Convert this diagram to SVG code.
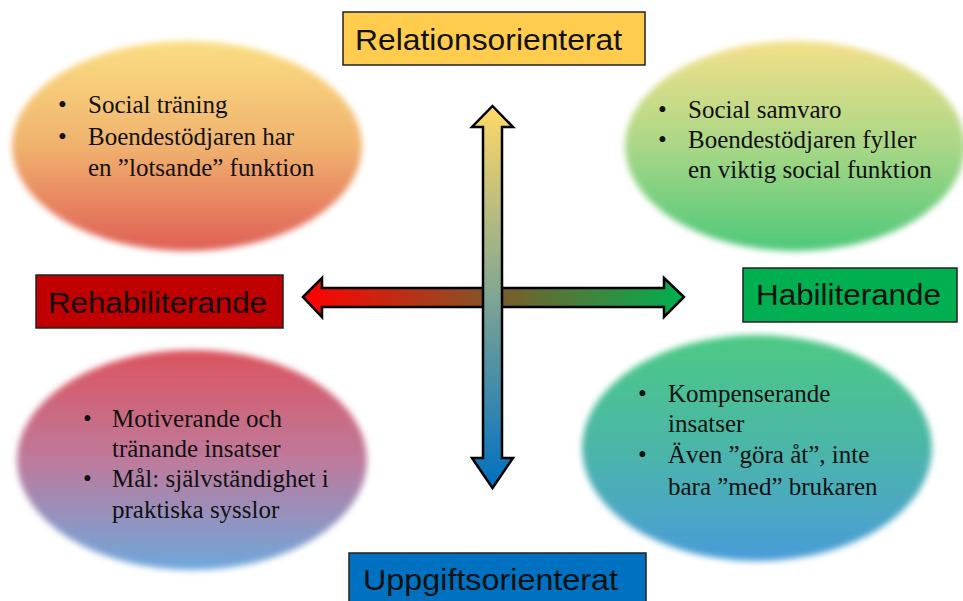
<svg xmlns="http://www.w3.org/2000/svg" width="963" height="601" viewBox="0 0 963 601">
<defs>
<filter id="soft" x="-10%" y="-10%" width="120%" height="120%"><feGaussianBlur stdDeviation="3"/></filter>
<linearGradient id="gTL" x1="0" y1="0" x2="0" y2="1"><stop offset="0" stop-color="#FADE82"/><stop offset="0.5" stop-color="#F0B26E"/><stop offset="1" stop-color="#DF5F56"/></linearGradient>
<linearGradient id="gTR" x1="0" y1="0" x2="0" y2="1"><stop offset="0" stop-color="#F4E08A"/><stop offset="0.5" stop-color="#A9D786"/><stop offset="1" stop-color="#4EC87A"/></linearGradient>
<linearGradient id="gBL" x1="0" y1="0" x2="0" y2="1"><stop offset="0" stop-color="#DB545E"/><stop offset="0.5" stop-color="#BE7A9C"/><stop offset="1" stop-color="#6EA8DC"/></linearGradient>
<linearGradient id="gBR" x1="0" y1="0" x2="0" y2="1"><stop offset="0" stop-color="#4DC984"/><stop offset="0.5" stop-color="#4CB6A8"/><stop offset="1" stop-color="#4A9CD8"/></linearGradient>
<linearGradient id="gH" x1="303" y1="0" x2="684" y2="0" gradientUnits="userSpaceOnUse"><stop offset="0" stop-color="#FF0000"/><stop offset="1" stop-color="#00B050"/></linearGradient>
<linearGradient id="gV" x1="0" y1="106" x2="0" y2="488" gradientUnits="userSpaceOnUse"><stop offset="0" stop-color="#FFD966"/><stop offset="1" stop-color="#0070C0"/></linearGradient>
<style>
.lbl{font-family:"Liberation Sans","Open Sans",sans-serif;font-size:30px;fill:#111}
.box{stroke:#222;stroke-width:1.5}
.txt{font-family:"Liberation Serif","DejaVu Serif",serif;font-size:25px;fill:#111}
.arrow{stroke:#000;stroke-width:2.5;stroke-linejoin:miter}
</style>
</defs>
<rect width="963" height="601" fill="#fff"/>

<g id="ellipse-top-left">
<ellipse cx="187" cy="146" rx="175" ry="105" fill="url(#gTL)" filter="url(#soft)"/>
<text class="txt" x="58" y="113">•</text><text class="txt" x="88" y="113">Social träning</text>
<text class="txt" x="58" y="145">•</text><text class="txt" x="88" y="145">Boendestödjaren har</text>
<text class="txt" x="88" y="176">en ”lotsande” funktion</text>
</g>

<g id="ellipse-top-right">
<ellipse cx="795" cy="146" rx="170" ry="105" fill="url(#gTR)" filter="url(#soft)"/>
<text class="txt" x="658" y="118">•</text><text class="txt" x="688" y="118">Social samvaro</text>
<text class="txt" x="658" y="148">•</text><text class="txt" x="688" y="148">Boendestödjaren fyller</text>
<text class="txt" x="688" y="178">en viktig social funktion</text>
</g>

<g id="ellipse-bottom-left">
<ellipse cx="192" cy="460" rx="175" ry="110" fill="url(#gBL)" filter="url(#soft)"/>
<text class="txt" x="83" y="427">•</text><text class="txt" x="112" y="427">Motiverande och</text>
<text class="txt" x="112" y="457">tränande insatser</text>
<text class="txt" x="83" y="487">•</text><text class="txt" x="112" y="487">Mål: självständighet i</text>
<text class="txt" x="112" y="518">praktiska sysslor</text>
</g>

<g id="ellipse-bottom-right">
<ellipse cx="757" cy="448" rx="175" ry="113" fill="url(#gBR)" filter="url(#soft)"/>
<text class="txt" x="638" y="402">•</text><text class="txt" x="668" y="402">Kompenserande</text>
<text class="txt" x="668" y="432">insatser</text>
<text class="txt" x="638" y="463">•</text><text class="txt" x="668" y="463">Även ”göra åt”, inte</text>
<text class="txt" x="668" y="495">bara ”med” brukaren</text>
</g>

<g id="connectors">
<path class="arrow" fill="url(#gH)" d="M303,297 L322,278 L322,288 L664,288 L664,278 L684,297 L664,317 L664,307 L322,307 L322,317 Z"/>
<path class="arrow" fill="url(#gV)" d="M492.5,106 L513,127 L502,127 L502,458 L513,458 L492.5,488 L472,458 L483,458 L483,127 L472,127 Z"/>
</g>

<g id="label-relationsorienterat">
<rect class="box" x="343" y="12" width="302" height="53" fill="#FFCC4D"/>
<text class="lbl" x="355" y="50" textLength="267" lengthAdjust="spacingAndGlyphs">Relationsorienterat</text>
</g>
<g id="label-uppgiftsorienterat">
<rect class="box" x="349" y="553" width="297" height="60" fill="#0070C0"/>
<text class="lbl" x="363" y="590" textLength="255" lengthAdjust="spacingAndGlyphs">Uppgiftsorienterat</text>
</g>
<g id="label-rehabiliterande">
<rect class="box" x="36" y="275" width="247" height="53" fill="#C00000"/>
<text class="lbl" x="48" y="313" textLength="219" lengthAdjust="spacingAndGlyphs">Rehabiliterande</text>
</g>
<g id="label-habiliterande">
<rect class="box" x="743" y="268" width="214" height="54" fill="#00B050"/>
<text class="lbl" x="756" y="305" textLength="185" lengthAdjust="spacingAndGlyphs">Habiliterande</text>
</g>
</svg>
